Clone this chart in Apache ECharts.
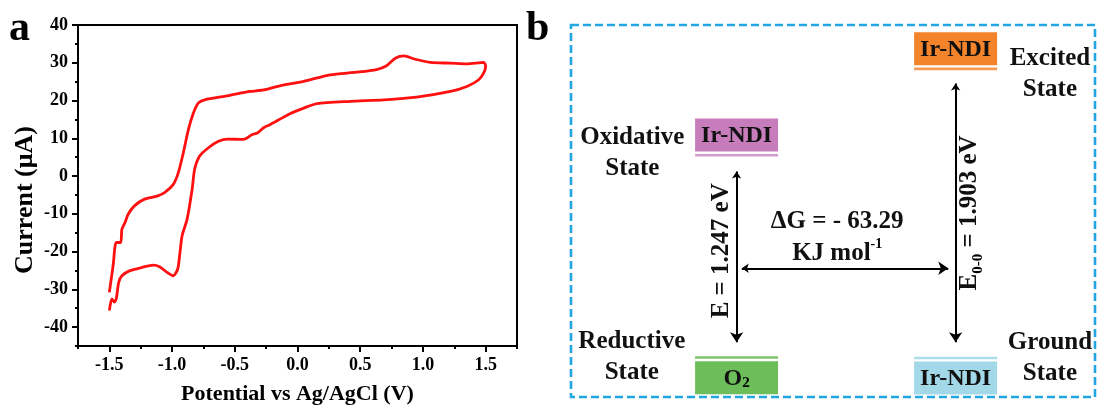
<!DOCTYPE html>
<html>
<head>
<meta charset="utf-8">
<script src="https://cdn.jsdelivr.net/npm/echarts@6/dist/echarts.min.js"></script>
<style>html,body{margin:0;padding:0;background:#fff}#c{width:1099px;height:405px}</style>
</head>
<body>
<div id="c"></div>
<script>
// ---------- Panel a: cyclic voltammogram, points in scan order ----------
const cvPotential = [
  -1.50,-1.47,-1.445,-1.41,-1.40,-1.375,-1.35,-1.30,-1.22,-1.12,-1.06,-0.99,-0.95,-0.91,-0.87,-0.83,-0.79,-0.74,-0.55,-0.38,-0.27,-0.165,0.05,0.26,0.47,0.63,0.71,0.78,0.85,0.93,1.06,1.22,1.35,1.485,1.50,
  1.485,1.445,1.35,1.22,0.95,0.69,0.42,0.155,0.05,-0.06,-0.22,-0.27,-0.32,-0.36,-0.43,-0.56,-0.63,-0.71,-0.78,-0.82,-0.84,-0.88,-0.92,-0.94,-0.955,-0.99,-1.04,-1.10,-1.15,-1.24,-1.34,-1.40,-1.425,-1.445,-1.46,-1.48,-1.50
];
const cvCurrent = [
  -30.8,-23.7,-17.6,-17.6,-14.1,-12.3,-10.1,-7.9,-6.1,-5.3,-4.4,-2.2,0.9,6.2,12.3,16.7,19.4,20.2,21.3,22.4,22.8,23.7,25.1,26.8,27.5,28.2,29.2,31.2,31.8,31.0,30.1,29.9,29.7,30.1,29.0,
  27.3,25.5,23.7,22.4,20.9,20.2,19.8,19.2,18.0,16.5,13.6,12.8,11.4,11.0,9.7,9.8,9.2,7.5,5.3,1.8,-3.5,-11.4,-15.8,-21.1,-24.6,-26.4,-25.5,-24.0,-23.6,-24.2,-25.1,-26.4,-28.1,-32.5,-33.4,-32.5,-35.6
];
const xMajorTicks = [-1.5,-1.0,-0.5,0.0,0.5,1.0,1.5];
const xMinorTicks = [-1.75,-1.25,-0.75,-0.25,0.25,0.75,1.25,1.75];
const yMajorTicks = [-40,-30,-20,-10,0,10,20,30,40];
const yMinorTicks = [-45,-35,-25,-15,-5,5,15,25,35];

// ---------- Panel b: energy diagram (diagram units 0..100) ----------
const stateNames   = ['Excited\nState','Oxidative\nState','Reductive\nState','Ground\nState'];
const stateSpecies = ['Ir-NDI','Ir-NDI','O{s|2}','Ir-NDI'];
const stateLevelX  = [73.4, 31.6, 31.6, 73.4];
const stateLevelY  = [88.2, 65.0, 10.6, 10.5];
const stateBoxSide = [1, 1, -1, -1];
const stateLabelX  = [91.4, 11.7, 11.6, 91.4];
const stateLabelY  = [86.7, 65.5, 10.8, 10.4];

const transitionLabels = ['E = 1.247 eV', 'E{s|0-0} = 1.903 eV', '\u0394G = - 63.29\nKJ mol{p|-1}'];
const transitionLabelX = [28.7, 76.0, 50.8];
const transitionLabelY = [39.3, 49.5, 42.9];
const transitionRotated = [1, 1, 0];
const arrowFrom = [[31.6, 60.6], [73.4, 84.3], [32.6, 34.6]];
const arrowTo   = [[31.6, 14.7], [73.4, 14.7], [72.0, 34.6]];

// ---------- styles ----------
const SERIF = '"Liberation Serif","Times New Roman",serif';
const boxColors  = ['#F3842C', '#C77CBB', '#6DBD5B', '#A2D8E7'];
const lineColors = ['#F59A55', '#D49BCB', '#7CC46A', '#AEDDEA'];

const chart = echarts.init(document.getElementById('c'), null, {renderer: 'canvas'});

const tickLabel = {color: '#000', fontFamily: SERIF, fontWeight: 'bold', fontSize: 18};
const richSubSup = {
  s: {fontSize: 15, fontFamily: SERIF, fontWeight: 'bold', fill: '#000', lineHeight: 10, verticalAlign: 'bottom'},
  p: {fontSize: 14, fontFamily: SERIF, fontWeight: 'bold', fill: '#000', lineHeight: 12, verticalAlign: 'top'}
};

const option = {
  animation: false,
  backgroundColor: '#fff',
  title: [
    {text: 'a', left: 9, top: 8, padding: 0, textStyle: {fontFamily: SERIF, fontWeight: 'bold', fontSize: 42, color: '#000'}},
    {text: 'b', left: 526, top: 8, padding: 0, textStyle: {fontFamily: SERIF, fontWeight: 'bold', fontSize: 42, color: '#000'}}
  ],
  grid: [
    {left: 78, top: 25, width: 439, height: 321, show: true, borderColor: '#000', borderWidth: 2, backgroundColor: 'transparent', containLabel: false, outerBoundsMode: 'none'},
    {left: 571, top: 25, width: 524, height: 372, show: false, containLabel: false, outerBoundsMode: 'none'}
  ],
  xAxis: [
    {
      gridIndex: 0, type: 'value', min: -1.75, max: 1.75, position: 'bottom',
      name: 'Potential vs Ag/AgCl (V)', nameLocation: 'middle', nameGap: 37,
      nameTextStyle: {color: '#000', fontFamily: SERIF, fontWeight: 'bold', fontSize: 22},
      axisLine: {show: true, onZero: false, lineStyle: {color: '#000', width: 2}},
      axisTick: {show: true, customValues: xMajorTicks, length: 6, inside: false, lineStyle: {color: '#000', width: 2}},
      axisLabel: Object.assign({customValues: xMajorTicks, margin: 10, formatter: v => v.toFixed(1)}, tickLabel),
      splitLine: {show: false}
    },
    {
      gridIndex: 0, type: 'value', min: -1.75, max: 1.75, position: 'bottom',
      axisLine: {show: false, onZero: false},
      axisTick: {show: true, customValues: xMinorTicks, length: 3, lineStyle: {color: '#000', width: 2}},
      axisLabel: {show: false}, splitLine: {show: false}
    },
    {gridIndex: 1, type: 'value', min: 0, max: 100, show: false}
  ],
  yAxis: [
    {
      gridIndex: 0, type: 'value', min: -45, max: 40, position: 'left',
      name: 'Current (\u03bcA)', nameLocation: 'middle', nameGap: 40,
      nameTextStyle: {color: '#000', fontFamily: SERIF, fontWeight: 'bold', fontSize: 26, padding: [0, 29, 0, 0]},
      axisLine: {show: true, onZero: false, lineStyle: {color: '#000', width: 2}},
      axisTick: {show: true, customValues: yMajorTicks, length: 6, lineStyle: {color: '#000', width: 2}},
      axisLabel: Object.assign({customValues: yMajorTicks, margin: 10}, tickLabel),
      splitLine: {show: false}
    },
    {
      gridIndex: 0, type: 'value', min: -45, max: 40, position: 'left',
      axisLine: {show: false, onZero: false},
      axisTick: {show: true, customValues: yMinorTicks, length: 3, lineStyle: {color: '#000', width: 2}},
      axisLabel: {show: false}, splitLine: {show: false}
    },
    {gridIndex: 1, type: 'value', min: 0, max: 100, show: false}
  ],
  series: [
    {
      type: 'line', xAxisIndex: 0, yAxisIndex: 0,
      data: cvPotential.map((x, i) => [x, cvCurrent[i]]),
      showSymbol: false, symbol: 'none', smooth: 0.25,
      lineStyle: {color: '#FF1010', width: 2.8}
    },
    // dashed frame of panel b
    {
      type: 'custom', xAxisIndex: 2, yAxisIndex: 2, data: [[0, 0]], silent: true,
      renderItem: (params) => {
        const cs = params.coordSys;
        return {type: 'rect', shape: {x: cs.x, y: cs.y, width: cs.width, height: cs.height},
          style: {fill: 'none', stroke: '#22A6E2', lineWidth: 2.6, lineDash: [8, 4]}};
      }
    },
    // energy level boxes
    {
      type: 'custom', xAxisIndex: 2, yAxisIndex: 2, silent: true,
      data: stateLevelX.map((x, i) => [x, stateLevelY[i], stateBoxSide[i]]),
      renderItem: (params, api) => {
        const i = params.dataIndex;
        const c = api.coord([api.value(0), api.value(1)]);
        const side = api.value(2);
        const w = 83, h = 33, gap = 2.3, lw = 2.6;
        const fillTop = side > 0 ? c[1] - lw / 2 - gap - h : c[1] + lw / 2 + gap;
        return {type: 'group', children: [
          {type: 'rect', shape: {x: c[0] - w / 2, y: c[1] - lw / 2, width: w, height: lw}, style: {fill: lineColors[i]}},
          {type: 'rect', shape: {x: c[0] - w / 2, y: fillTop, width: w, height: h}, style: {fill: boxColors[i]}},
          {type: 'text', x: c[0], y: fillTop + h / 2 + 1, style: {
            text: stateSpecies[i], align: 'center', verticalAlign: 'middle',
            fontFamily: SERIF, fontWeight: 'bold', fontSize: 24, fill: '#111', rich: richSubSup}}
        ]};
      }
    },
    // arrows
    {
      type: 'lines', coordinateSystem: 'cartesian2d', xAxisIndex: 2, yAxisIndex: 2, silent: true,
      data: arrowFrom.map((f, i) => ({coords: [f, arrowTo[i]]})),
      symbol: ['arrow', 'arrow'], symbolSize: [7, 10],
      lineStyle: {color: '#000', width: 2, opacity: 1}
    },
    // state names
    {
      type: 'custom', xAxisIndex: 2, yAxisIndex: 2, silent: true,
      data: stateLabelX.map((x, i) => [x, stateLabelY[i]]),
      renderItem: (params, api) => {
        const c = api.coord([api.value(0), api.value(1)]);
        return {type: 'text', x: c[0], y: c[1], style: {
          text: stateNames[params.dataIndex], align: 'center', verticalAlign: 'middle', lineHeight: 31,
          fontFamily: SERIF, fontWeight: 'bold', fontSize: 25, fill: '#111'}};
      }
    },
    // transition labels
    {
      type: 'custom', xAxisIndex: 2, yAxisIndex: 2, silent: true,
      data: transitionLabelX.map((x, i) => [x, transitionLabelY[i]]),
      renderItem: (params, api) => {
        const i = params.dataIndex;
        const c = api.coord([api.value(0), api.value(1)]);
        return {type: 'text', x: c[0], y: c[1], rotation: transitionRotated[i] ? Math.PI / 2 : 0, style: {
          text: transitionLabels[i], align: 'center', verticalAlign: 'middle', lineHeight: 32,
          fontFamily: SERIF, fontWeight: 'bold', fontSize: 25, fill: '#111', rich: richSubSup}};
      }
    }
  ]
};
chart.setOption(option);
</script>
</body>
</html>
